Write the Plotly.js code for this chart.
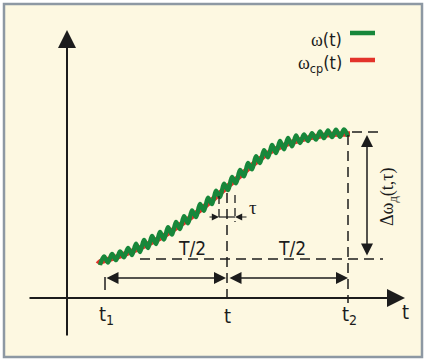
<!DOCTYPE html>
<html>
<head>
<meta charset="utf-8">
<script src="https://cdn.plot.ly/plotly-3.0.1.min.js"></script>
<style>html,body{margin:0;padding:0;background:#fff;}#chart{width:426px;height:361px;}</style>
</head>
<body>
<div id="chart"></div>
<script>
// ---- data (arbitrary units: t along the time axis, w along the vertical axis) ----
const tOmega = [33,37,41,45,49,53,57,61,65,69,73,77,81,85,89,93,97,101,105,109,113,117,121,125,129,133,137,141,145,149,153,157,161,165,169,173,177,181,185,189,193,197,201,205,209,213,217,221,225,229,233,237,241,245,249,253,257,261,265,269,273,277,281];
const omega = [33,41.7,35.4,44.1,37.8,46.5,40.6,50.2,43.0,54.4,46.0,58,50.0,62,54.0,66,58.4,70.8,63.4,76.2,69.0,81.8,74.6,87.6,80.8,94,87.2,100.4,93.8,107.4,101.0,114.4,107.8,121.2,114.6,128,121.6,135.2,128.6,141.8,135.0,147.8,140.6,153,145.0,157,148.6,160.2,151.6,162.6,155,163.5,157,164.9,158.4,166.5,159.8,167.7,160.8,168.3,161.2,168.5,161.5];
const tMean = [31,33,43,53,63,73,83,93,103,113,123,133,143,153,160,173,183,193,203,213,223,233,243,253,263,273,283];
const omegaMean = [34,36,39,42,46,50,55,60,66,73,80,88,96,105,111,122,131,139,146,151,155,158,160.4,162,163.6,164,164];
const tickPositions = [38, 160, 281];          // t1, t, t2
const tickLabels = ['t<sub>1</sub>', 't', 't<sub>2</sub>'];
const tau = 16;                                 // width of the tau window
const omegaLow = 39, omegaHigh = 166;           // levels of the delta-omega span
const seriesNames = ['<span style="font-family:Liberation Serif">ω</span>(t)',
                     '<span style="font-family:Liberation Serif">ω</span><sub>cp</sub>(t)'];

// ---- styles / layout helpers ----
const INK = '#1c1c1c';
const GREEN = '#17873a', RED = '#e3332a';
const SANS = 'DejaVu Sans Condensed, Liberation Sans Narrow, Arial Narrow, Liberation Sans, sans-serif';
const SERIF = 'Liberation Serif, Times New Roman, serif';
const DASH = '10px,6px';
const t1 = tickPositions[0], tm = tickPositions[1], t2 = tickPositions[2];

const traces = [
  {x: tMean, y: omegaMean, mode: 'lines', line: {color: RED, width: 5.5, shape: 'spline'}, hoverinfo: 'skip', name: 'mean'},
  {x: tOmega, y: omega, mode: 'lines', line: {color: GREEN, width: 4.3, shape: 'spline', smoothing: 1}, hoverinfo: 'skip', name: 'omega'}
];

function vline(x, y0, y1, dash, w) {
  return {type: 'line', xref: 'x', yref: 'y', x0: x, x1: x, y0: y0, y1: y1,
          line: {color: INK, width: w || 1.5, dash: dash || 'solid'}};
}
function hline(y, x0, x1, dash, w) {
  return {type: 'line', xref: 'x', yref: 'y', x0: x0, x1: x1, y0: y, y1: y,
          line: {color: INK, width: w || 1.5, dash: dash || 'solid'}};
}

const shapes = [
  // frame
  {type: 'rect', xref: 'x', yref: 'y', x0: -63, x1: 355, y0: -59, y1: 294,
   fillcolor: '#fdf8e1', line: {color: '#8d98a3', width: 2.5}, layer: 'below'},
  // dashed guides
  vline(tm, 105, -4, DASH),
  vline(t2, omegaHigh - 3, -5, DASH),
  vline(tm - tau / 2, 102, 76, '8px,5px', 1.3),
  vline(tm + tau / 2, 103, 76, '8px,5px', 1.3),
  hline(omegaLow, 73, 316, DASH),
  hline(omegaHigh, 285, 314, DASH),
  vline(t1, 21, 8, 'solid', 1.5),
  hline(81, tm - tau / 2, tm + tau / 2, 'solid', 1.2),
  // legend keys
  {type: 'line', xref: 'x', yref: 'y', x0: 283, x1: 308, y0: 265, y1: 265, line: {color: GREEN, width: 4.5}},
  {type: 'line', xref: 'x', yref: 'y', x0: 283, x1: 308, y0: 238, y1: 238, line: {color: RED, width: 4.5}}
];

function arrow(xh, yh, xt, yt, opts) {
  return Object.assign({
    x: xh, y: yh, ax: xt, ay: yt, xref: 'x', yref: 'y', axref: 'x', ayref: 'y',
    text: '', showarrow: true, arrowhead: 2, arrowsize: 1.6, arrowwidth: 1.5,
    arrowcolor: INK, standoff: 0, startstandoff: 0
  }, opts || {});
}
function label(x, y, text, opts) {
  return Object.assign({x: x, y: y, xref: 'x', yref: 'y', text: text, showarrow: false,
    font: {family: SANS, size: 19, color: INK}, xanchor: 'center', yanchor: 'middle'}, opts || {});
}

const annotations = [
  // axes
  arrow(338, 0, -39, 0, {arrowwidth: 2, arrowsize: 1.8}),
  arrow(0, 268, 0, -39, {arrowwidth: 2, arrowsize: 1.8}),
  // T/2 spans
  arrow(tm - 1, 20, t1, 20, {arrowside: 'end+start', startarrowhead: 2, startarrowsize: 1.6}),
  arrow(t2, 20, tm + 1, 20, {arrowside: 'end+start', startarrowhead: 2, startarrowsize: 1.6}),
  // delta omega span
  arrow(300, omegaHigh - 3, 300, omegaLow + 2, {arrowside: 'end+start', startarrowhead: 2, startarrowsize: 1.6}),
  // tau markers
  arrow(tm - tau / 2, 81, tm - tau / 2 - 11, 81, {arrowwidth: 1.2, arrowsize: 1.2}),
  arrow(tm + tau / 2, 81, tm + tau / 2 + 13, 81, {arrowwidth: 1.2, arrowsize: 1.2}),
  // tick labels
  label(t1 + 1, -17, tickLabels[0], {font: {family: SANS, size: 20, color: INK}}),
  label(tm, -18, tickLabels[1], {font: {family: SANS, size: 20, color: INK}}),
  label(t2 + 1, -17, tickLabels[2], {font: {family: SANS, size: 20, color: INK}}),
  label(338, -14, 't', {font: {family: SANS, size: 20, color: INK}}),
  label(125, 50, 'T/2'),
  label(225, 50, 'T/2'),
  label(186, 91, 'τ', {font: {family: SERIF, size: 19, color: INK}}),
  label(321, 101, 'Δω<sub>д</sub>(t,τ)', {textangle: -90, font: {family: SERIF, size: 18, color: INK}}),
  // legend texts
  label(277, 259, seriesNames[0], {xanchor: 'right', font: {family: SANS, size: 18, color: INK}}),
  label(277, 234, seriesNames[1], {xanchor: 'right', font: {family: SANS, size: 18, color: INK}})
];

const layout = {
  width: 426, height: 361,
  margin: {l: 0, r: 0, t: 0, b: 0, pad: 0},
  paper_bgcolor: '#ffffff', plot_bgcolor: 'rgba(0,0,0,0)',
  showlegend: false,
  xaxis: {range: [-67, 359], visible: false, fixedrange: true},
  yaxis: {range: [-63, 298], visible: false, fixedrange: true},
  shapes: shapes, annotations: annotations,
  font: {family: SANS, color: INK}
};

Plotly.newPlot('chart', traces, layout, {staticPlot: true, displayModeBar: false});
</script>
</body>
</html>
